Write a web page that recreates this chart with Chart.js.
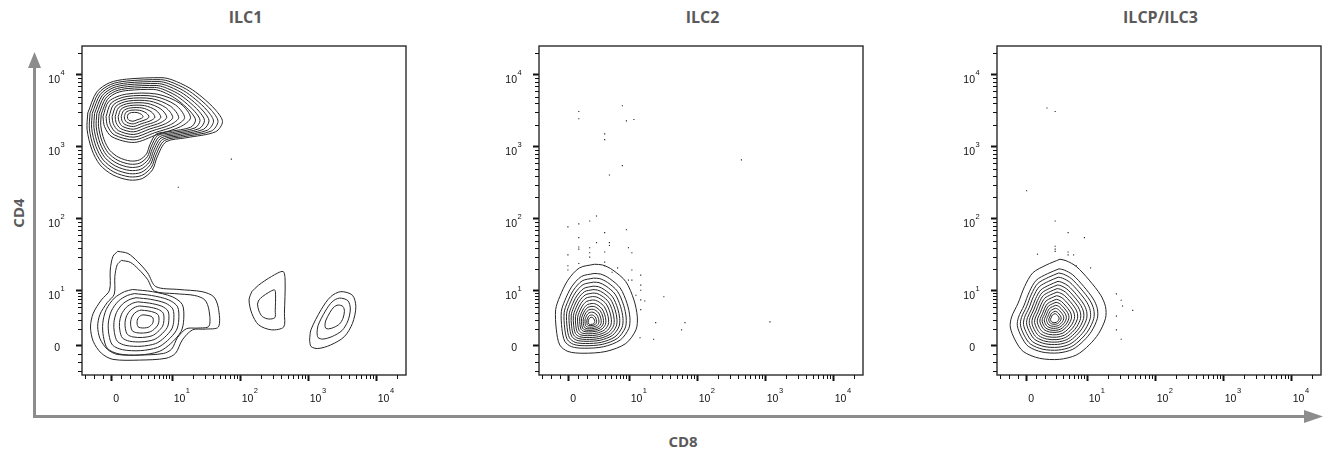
<!DOCTYPE html>
<html>
<head>
<meta charset="utf-8">
<script src="https://cdn.jsdelivr.net/npm/chart.js@4.4.1/dist/chart.umd.min.js"></script>
<style>
  html, body { margin: 0; padding: 0; background: #fff; }
  body { width: 1325px; height: 453px; position: relative; overflow: hidden; font-family: 'Open Sans', sans-serif; }
  canvas.panel { position: absolute; top: 36px; }
  .title { position: absolute; top: 5px; width: 327px; text-align: center; font-weight: bold; font-size: 16px; color: #5a5a5a; line-height: 24px; }
  .axis-label { position: absolute; font-weight: bold; font-size: 15px; color: #5a5a5a; line-height: 20px; }
  #cd4 { left: -2px; top: 203px; width: 40px; text-align: center; transform: rotate(-90deg); }
  #cd8 { left: 643px; top: 431px; width: 80px; text-align: center; }
  svg { position: absolute; left: 0; top: 0; }
</style>
</head>
<body>
<svg width="1325" height="453">
  <line x1="34.5" y1="418" x2="34.5" y2="64" stroke="#8c8c8c" stroke-width="3"/>
  <polygon points="34.5,52 28,68 41,68" fill="#8c8c8c"/>
  <line x1="33" y1="416.5" x2="1308" y2="416.5" stroke="#8c8c8c" stroke-width="3"/>
  <polygon points="1323,416.5 1304,410 1304,423" fill="#8c8c8c"/>
</svg>
<div class="title" style="left:82px">ILC1</div>
<div class="title" style="left:539px">ILC2</div>
<div class="title" style="left:997px">ILCP/ILC3</div>
<div class="axis-label" id="cd4">CD4</div>
<div class="axis-label" id="cd8">CD8</div>
<canvas class="panel" id="p1" width="388" height="374" style="left:22px"></canvas>
<canvas class="panel" id="p2" width="388" height="374" style="left:479px"></canvas>
<canvas class="panel" id="p3" width="388" height="374" style="left:937px"></canvas>
<script>
// axis units are decades: 1 = 10^1 ... 4 = 10^4, "0" sits in the linear part
const xTickValues = [0.112, 1, 2, 3, 4];
const yTickValues = [0.236, 1, 2, 3, 4];
const tickBase = ['0', '10', '10', '10', '10'];
const tickExp = ['', '1', '2', '3', '4'];

// ILC1: CD4+ population (outer rings, then the inner egg)
const ilc1PosPeak = [0.42, 3.42];
const ilc1PosX = [-0.24, -0.11, 0.08, 0.33, 0.85, 1.00, 1.25, 1.44, 1.64, 1.74, 1.64, 1.20, 0.91, 0.78, 0.71, 0.56, 0.37, 0.13, -0.06, -0.18, -0.25];
const ilc1PosY = [3.47, 3.76, 3.89, 3.94, 3.96, 3.93, 3.82, 3.69, 3.51, 3.35, 3.21, 3.125, 3.07, 2.86, 2.68, 2.56, 2.54, 2.61, 2.75, 2.96, 3.24];
const ilc1PosLevels = [1, 0.95, 0.9, 0.85, 0.8, 0.75, 0.7];
const ilc1PosCoreX = [-0.14, -0.03, 0.30, 0.88, 1.32, 1.51, 1.32, 0.88, 0.45, 0.03, -0.11];
const ilc1PosCoreY = [3.42, 3.69, 3.82, 3.82, 3.65, 3.40, 3.24, 3.10, 2.96, 3.06, 3.24];
const ilc1PosCoreLevels = [0.78, 0.7, 0.62, 0.54, 0.46, 0.38, 0.3, 0.22, 0.14];

// ILC1: double negative population
const ilc1DnPeak = [0.61, 0.58];
const ilc1DnOuterX = [0.20, 0.35, 0.49, 0.64, 0.76, 1.10, 1.44, 1.61, 1.68, 1.68, 1.49, 1.30, 1.15, 1.05, 0.91, 0.52, 0.13, -0.04, -0.16, -0.20, -0.16, -0.04, 0.08, 0.09, 0.13];
const ilc1DnOuterY = [1.55, 1.52, 1.41, 1.25, 1.06, 1.02, 0.99, 0.92, 0.76, 0.50, 0.47, 0.46, 0.32, 0.135, 0.065, 0.04, 0.05, 0.135, 0.30, 0.50, 0.69, 0.875, 1.01, 1.29, 1.48];
const ilc1DnOuterLevels = [1, 0.87];
const ilc1DnCoreX = [0.42, 0.71, 1.00, 1.15, 1.17, 1.13, 0.98, 0.81, 0.52, 0.22, 0.05, -0.01, -0.02, 0.03, 0.15, 0.30];
const ilc1DnCoreY = [1.02, 0.99, 0.92, 0.81, 0.60, 0.435, 0.27, 0.16, 0.11, 0.125, 0.20, 0.365, 0.55, 0.74, 0.90, 0.99];
const ilc1DnCoreLevels = [1, 0.87, 0.74, 0.61, 0.48, 0.35, 0.2];

// ILC1: CD8 10^2 and 10^3 islands
const ilc1MidPeak = [2.38, 0.76];
const ilc1MidX = [2.17, 2.27, 2.46, 2.63, 2.66, 2.65, 2.64, 2.46, 2.27, 2.17, 2.13];
const ilc1MidY = [0.99, 1.08, 1.20, 1.27, 1.15, 0.69, 0.50, 0.46, 0.53, 0.69, 0.875];
const ilc1MidLevels = [1, 0.5];
const ilc1HiPeak = [3.41, 0.67];
const ilc1HiX = [3.02, 3.04, 3.19, 3.33, 3.48, 3.65, 3.70, 3.65, 3.53, 3.33, 3.14, 3.04];
const ilc1HiY = [0.32, 0.46, 0.74, 0.92, 0.99, 0.94, 0.78, 0.55, 0.365, 0.25, 0.20, 0.23];
const ilc1HiLevels = [1, 0.72, 0.42];
const ilc1DotX = [1.87, 1.09];
const ilc1DotY = [2.83, 2.44];

// ILC2
const ilc2Peak = [0.44, 0.57];
const ilc2X = [0.49, 0.27, 0.10, -0.02, -0.08, -0.07, -0.02, 0.10, 0.32, 0.66, 0.95, 1.10, 1.12, 1.07, 0.95, 0.76, 0.61];
const ilc2Y = [1.37, 1.32, 1.15, 0.92, 0.74, 0.46, 0.25, 0.16, 0.135, 0.16, 0.27, 0.46, 0.64, 0.875, 1.13, 1.29, 1.36];
const ilc2Levels = [1, 0.84, 0.76, 0.69, 0.62, 0.56, 0.5, 0.44, 0.38, 0.32, 0.27, 0.22, 0.17, 0.12, 0.08];
const ilc2DotX = [0.26, 0.26, 0.90, 0.96, 1.07, 0.64, 0.64, 0.90, 0.71, 2.65, 0.52, 0.42, 0.26, 0.10, 0.64, 0.96, 0.26, 0.52, 0.71, 0.71, 0.26, 0.26, 0.42, 0.42, 0.42, 0.64, 0.99, 1.04, 0.10, 0.10, 0.10, 0.26, 0.64, 0.64, 0.83, 0.75, 1.04, 1.17, 0.99, 1.04, 1.17, 1.17, 1.10, 1.17, 1.23, 1.51, 1.17, 1.39, 1.82, 1.77, 1.16, 1.36, 3.07];
const ilc2DotY = [3.49, 3.39, 3.57, 3.36, 3.38, 3.18, 3.10, 2.74, 2.61, 2.82, 2.04, 1.97, 1.93, 1.89, 1.81, 1.85, 1.74, 1.67, 1.67, 1.63, 1.61, 1.58, 1.60, 1.53, 1.47, 1.54, 1.60, 1.53, 1.50, 1.35, 1.29, 1.38, 1.40, 1.35, 1.32, 1.26, 1.29, 1.22, 1.15, 1.15, 1.08, 1.01, 0.94, 0.875, 0.86, 0.92, 0.74, 0.56, 0.56, 0.46, 0.35, 0.33, 0.57];

// ILCP/ILC3
const ilc3Peak = [0.52, 0.61];
const ilc3X = [0.60, 0.40, 0.20, 0.08, -0.015, -0.11, -0.13, -0.06, 0.06, 0.30, 0.59, 0.84, 1.03, 1.17, 1.27, 1.27, 1.20, 1.03, 0.84, 0.69];
const ilc3Y = [1.44, 1.36, 1.25, 1.06, 0.83, 0.64, 0.50, 0.32, 0.16, 0.065, 0.05, 0.11, 0.25, 0.41, 0.62, 0.78, 0.94, 1.15, 1.34, 1.42];
const ilc3Levels = [1, 0.84, 0.77, 0.7, 0.63, 0.57, 0.51, 0.45, 0.39, 0.33, 0.28, 0.23, 0.18, 0.13, 0.09];
const ilc3DotX = [0.41, 0.53, 0.11, 0.53, 0.72, 0.96, 0.53, 0.53, 0.53, 0.27, 0.72, 0.72, 0.80, 0.84, 1.05, 1.43, 1.50, 1.52, 1.67, 1.43, 1.43, 1.50];
const ilc3DotY = [3.54, 3.49, 2.39, 1.97, 1.81, 1.74, 1.62, 1.58, 1.55, 1.51, 1.54, 1.50, 1.50, 1.35, 1.32, 0.96, 0.87, 0.79, 0.73, 0.65, 0.46, 0.33];

const X_MIN = -0.325, X_MAX = 4.437, Y_MIN = -0.167, Y_MAX = 4.40;
const LABEL_FONT = "'Liberation Sans', Arial, sans-serif";

function minorTicks(zero, lowFracs, min, max) {
  const out = [];
  lowFracs.forEach(f => out.push(zero + (1 - zero) * f));
  [0.15, 0.3, 0.45].forEach(f => out.push(zero - (1 - zero) * f));
  for (let d = 1; d <= 4; d++) {
    for (let k = 2; k <= 9; k++) out.push(d + Math.log10(k));
  }
  return out.filter(v => v > min && v < max);
}
const logFracs = [0.301, 0.477, 0.602, 0.699, 0.778, 0.845, 0.903, 0.954];
const minorX = minorTicks(xTickValues[0], [0.15].concat(logFracs), X_MIN, X_MAX);
const minorY = minorTicks(yTickValues[0], logFracs, Y_MIN, Y_MAX);

// each contour level is the read outline shrunk toward the density peak
function contours(peak, xs, ys, levels) {
  return levels.map(s => {
    const pts = xs.map((x, i) => ({ x: peak[0] + s * (x - peak[0]), y: peak[1] + s * (ys[i] - peak[1]) }));
    pts.push(pts[0]);
    return {
      type: 'line',
      data: pts,
      borderColor: '#262626',
      borderWidth: 1,
      pointRadius: 0,
      fill: false,
      tension: 0.3,
    };
  });
}

function dots(xs, ys) {
  return {
    type: 'scatter',
    data: xs.map((x, i) => ({ x: x, y: ys[i] })),
    pointRadius: 0.8,
    pointStyle: 'rect',
    backgroundColor: '#222',
    borderWidth: 0,
  };
}

// frame, minor ticks and "10 + superscript" tick labels
const framePlugin = {
  id: 'frame',
  afterDraw(chart) {
    const { ctx, chartArea: a, scales } = chart;
    ctx.save();
    ctx.strokeStyle = '#2b2b2b';
    ctx.lineWidth = 1.4;
    ctx.strokeRect(a.left, a.top, a.right - a.left, a.bottom - a.top);
    ctx.lineWidth = 1;
    ctx.strokeStyle = '#111';
    ctx.beginPath();
    minorX.forEach(v => {
      const px = Math.round(scales.x.getPixelForValue(v)) + 0.5;
      ctx.moveTo(px, a.bottom);
      ctx.lineTo(px, a.bottom + 4);
    });
    minorY.forEach(v => {
      const py = Math.round(scales.y.getPixelForValue(v)) + 0.5;
      ctx.moveTo(a.left, py);
      ctx.lineTo(a.left - 4, py);
    });
    ctx.stroke();

    ctx.fillStyle = '#111';
    ctx.textBaseline = 'alphabetic';
    xTickValues.forEach((v, i) => {
      const px = scales.x.getPixelForValue(v);
      ctx.font = '10.5px ' + LABEL_FONT;
      ctx.textAlign = 'left';
      const left = px + 1.5;
      ctx.fillText(tickBase[i], left, a.bottom + 27);
      if (tickExp[i]) {
        const w = ctx.measureText(tickBase[i]).width;
        ctx.font = '7.5px ' + LABEL_FONT;
        ctx.fillText(tickExp[i], left + w + 0.5, a.bottom + 18);
      }
    });
    yTickValues.forEach((v, i) => {
      const py = scales.y.getPixelForValue(v);
      const right = a.left - 22;
      ctx.font = '10.5px ' + LABEL_FONT;
      ctx.textAlign = 'right';
      ctx.fillText(tickBase[i], right, py + (tickExp[i] ? 8 : 5));
      if (tickExp[i]) {
        ctx.font = '7.5px ' + LABEL_FONT;
        ctx.textAlign = 'left';
        ctx.fillText(tickExp[i], right + 0.5, py);
      }
    });
    ctx.restore();
  },
};

function makePanel(id, datasets) {
  new Chart(document.getElementById(id), {
    type: 'scatter',
    data: { datasets: datasets },
    options: {
      responsive: false,
      animation: false,
      devicePixelRatio: 1,
      layout: { padding: { left: 0, top: 10, right: 1, bottom: 0 } },
      plugins: { legend: { display: false }, tooltip: { enabled: false } },
      scales: {
        x: {
          type: 'linear',
          min: X_MIN,
          max: X_MAX,
          afterFit: s => { s.height = 35; },
          afterBuildTicks: s => { s.ticks = xTickValues.map(v => ({ value: v })); },
          grid: { display: true, drawOnChartArea: false, tickLength: 6, tickWidth: 2, tickColor: '#111' },
          border: { display: false },
          ticks: { display: false, autoSkip: false },
        },
        y: {
          type: 'linear',
          min: Y_MIN,
          max: Y_MAX,
          afterFit: s => { s.width = 60; },
          afterBuildTicks: s => { s.ticks = yTickValues.map(v => ({ value: v })); },
          grid: { display: true, drawOnChartArea: false, tickLength: 6, tickWidth: 2, tickColor: '#111' },
          border: { display: false },
          ticks: { display: false, autoSkip: false },
        },
      },
    },
    plugins: [framePlugin],
  });
}

makePanel('p1', [].concat(
  contours(ilc1PosPeak, ilc1PosX, ilc1PosY, ilc1PosLevels),
  contours(ilc1PosPeak, ilc1PosCoreX, ilc1PosCoreY, ilc1PosCoreLevels),
  contours(ilc1DnPeak, ilc1DnOuterX, ilc1DnOuterY, ilc1DnOuterLevels),
  contours(ilc1DnPeak, ilc1DnCoreX, ilc1DnCoreY, ilc1DnCoreLevels),
  contours(ilc1MidPeak, ilc1MidX, ilc1MidY, ilc1MidLevels),
  contours(ilc1HiPeak, ilc1HiX, ilc1HiY, ilc1HiLevels),
  [dots(ilc1DotX, ilc1DotY)]
));
makePanel('p2', [].concat(
  contours(ilc2Peak, ilc2X, ilc2Y, ilc2Levels),
  [dots(ilc2DotX, ilc2DotY)]
));
makePanel('p3', [].concat(
  contours(ilc3Peak, ilc3X, ilc3Y, ilc3Levels),
  [dots(ilc3DotX, ilc3DotY)]
));
</script>
</body>
</html>
